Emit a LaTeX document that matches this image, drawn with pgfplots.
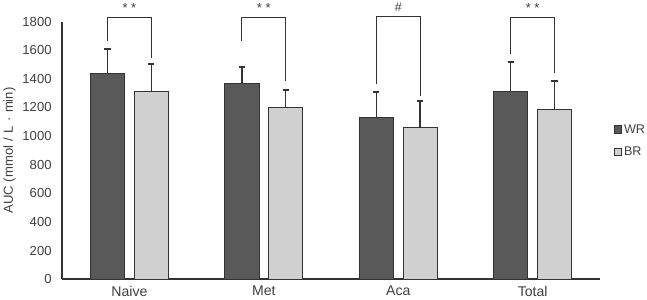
\documentclass[border=0pt]{standalone}
\usepackage{fontspec}
\setmainfont{Liberation Sans}
\usepackage{pgfplots}
\pgfplotsset{compat=1.18}
\definecolor{wr}{HTML}{595959}
\definecolor{br}{HTML}{D0D0D0}
\definecolor{edge}{HTML}{333333}
\definecolor{txt}{HTML}{404040}
\begin{document}
\begin{tikzpicture}[x=1bp,y=1bp]
\begin{axis}[
  scale only axis,
  width=532bp, height=255bp,
  xmin=0, xmax=4, ymin=0, ymax=1800,
  axis lines*=left,
  axis line style={edge, line width=1.6bp, -},
  xtick={0.5,1.5,2.5,3.5},
  xticklabels={Naive,Met,Aca,Total},
  ytick={0,200,...,1800},
  major tick length=0pt,
  tick label style={text=txt},
  yticklabel style={font=\fontsize{13}{15}\selectfont, xshift=-7bp},
  xticklabel style={font=\fontsize{14}{16}\selectfont, yshift=-3bp},
  /pgf/number format/assume math mode=true,
  /pgf/number format/1000 sep={},
  ylabel={AUC (mmol\,\,/\,\,L\,\,·\,\,min)},
  ylabel style={font=\fontsize{13}{14}\selectfont, text=txt, yshift=0bp},
  clip=false,
  unbounded coords=jump,
  legend style={at={(1.025,0.537)}, anchor=west, draw=none, fill=none,
    font=\fontsize{12.5}{14}\selectfont, text=txt, row sep=8bp, inner sep=0pt,
    legend cell align=left},
  legend image code/.code={\draw[#1, line width=0.8bp] (0bp,-3.8bp) rectangle (7.6bp,3.8bp);},
]
\addplot[ybar, bar width=0.255, bar shift=-0.163, fill=wr, draw=edge, line width=0.9bp]
  coordinates {(0.5,1440) (1.5,1367) (2.5,1131) (3.5,1310)};
\addlegendentry{WR}
\addplot[ybar, bar width=0.255, bar shift=0.163, fill=br, draw=edge, line width=0.9bp]
  coordinates {(0.5,1313) (1.5,1200) (2.5,1059) (3.5,1188)};
\addlegendentry{BR}
% error bars (upper only): stems
\addplot[forget plot, sharp plot, no marks, edge, line width=1.4bp]
  coordinates {(0.337,1440) (0.337,1611) (nan,nan)
               (1.337,1367) (1.337,1480) (nan,nan)
               (2.337,1131) (2.337,1310) (nan,nan)
               (3.337,1310) (3.337,1518) (nan,nan)
               (0.663,1313) (0.663,1501) (nan,nan)
               (1.663,1200) (1.663,1322) (nan,nan)
               (2.663,1059) (2.663,1242) (nan,nan)
               (3.663,1188) (3.663,1383)};
% caps
\addplot[forget plot, sharp plot, no marks, edge, line width=2bp]
  coordinates {(0.314,1611) (0.360,1611) (nan,nan)
               (1.314,1480) (1.360,1480) (nan,nan)
               (2.314,1310) (2.360,1310) (nan,nan)
               (3.314,1518) (3.360,1518) (nan,nan)
               (0.640,1501) (0.686,1501) (nan,nan)
               (1.640,1322) (1.686,1322) (nan,nan)
               (2.640,1242) (2.686,1242) (nan,nan)
               (3.640,1383) (3.686,1383)};
% significance brackets
\addplot[forget plot, sharp plot, no marks, edge, line width=1.1bp]
  coordinates {(0.337,1666) (0.337,1830) (0.663,1830) (0.663,1548)};
\addplot[forget plot, sharp plot, no marks, edge, line width=1.1bp]
  coordinates {(1.337,1666) (1.337,1830) (1.663,1830) (1.663,1383)};
\addplot[forget plot, sharp plot, no marks, edge, line width=1.1bp]
  coordinates {(2.337,1362) (2.337,1837) (2.663,1837) (2.663,1277)};
\addplot[forget plot, sharp plot, no marks, edge, line width=1.1bp]
  coordinates {(3.337,1574) (3.337,1830) (3.663,1830) (3.663,1440)};
\node[font=\fontsize{13}{14}\selectfont, text=txt, anchor=south] at (axis cs:0.5,1835) {* *};
\node[font=\fontsize{13}{14}\selectfont, text=txt, anchor=south] at (axis cs:1.5,1835) {* *};
\node[font=\fontsize{12.5}{14}\selectfont, text=txt, anchor=south] at (axis cs:2.5,1842) {\#};
\node[font=\fontsize{13}{14}\selectfont, text=txt, anchor=south] at (axis cs:3.5,1835) {* *};
\end{axis}
\end{tikzpicture}
\end{document}
